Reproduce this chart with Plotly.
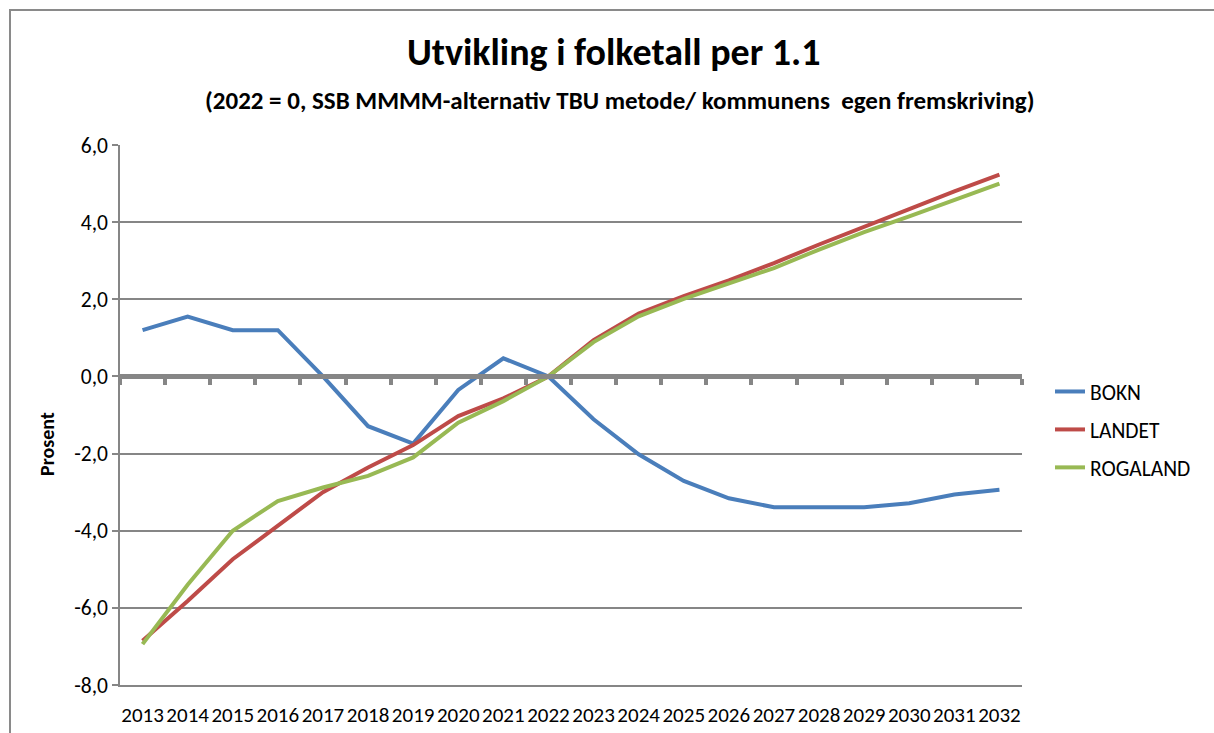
import plotly.graph_objects as go

years = [str(y) for y in range(2013, 2033)]
bokn = [1.2, 1.55, 1.2, 1.2, 0.0, -1.29, -1.74, -0.35, 0.47, 0.0,
        -1.11, -2.02, -2.71, -3.16, -3.39, -3.39, -3.39, -3.29, -3.06, -2.94]
landet = [-6.85, -5.82, -4.74, -3.88, -3.0, -2.36, -1.78, -1.03, -0.57, 0.0,
          0.94, 1.63, 2.08, 2.49, 2.94, 3.42, 3.89, 4.34, 4.80, 5.23]
rogaland = [-6.94, -5.4, -4.0, -3.23, -2.88, -2.58, -2.1, -1.2, -0.64, 0.0,
            0.89, 1.56, 2.01, 2.40, 2.81, 3.29, 3.74, 4.15, 4.57, 5.0]
yticks = [-8, -6, -4, -2, 0, 2, 4, 6]
ytick_labels = ["-8,0", "-6,0", "-4,0", "-2,0", "0,0", "2,0", "4,0", "6,0"]

FONT = "Carlito, Calibri, Lato, sans-serif"
GRAY = "#868686"
W, H = 1214, 733
L, R, T, B = 120, 1022, 145, 685


def px(x):
    return (x - L) / (R - L)


def py(y):
    return (B - y) / (B - T)


fig = go.Figure()
series = [("BOKN", bokn, "#4A7EBB"), ("LANDET", landet, "#BE4B48"), ("ROGALAND", rogaland, "#98B954")]
for name, vals, col in series:
    fig.add_trace(go.Scatter(x=years, y=vals, name=name, mode="lines",
                             line=dict(color=col, width=4), legendgroup=name))

# invisible trace for the zero-crossing category axis
fig.add_trace(go.Scatter(x=years, y=[None] * len(years), xaxis="x2", showlegend=False,
                         hoverinfo="skip", mode="lines"))

fig.update_layout(
    width=W, height=H,
    margin=dict(l=L, r=W - R, t=T, b=H - B, autoexpand=False),
    paper_bgcolor="white", plot_bgcolor="white",
    font=dict(family=FONT, color="#000000", size=21),
    showlegend=True,
    legend=dict(x=px(1050), y=py(371), xanchor="left", yanchor="top",
                font=dict(size=21.5, family=FONT), tracegroupgap=7,
                bgcolor="rgba(0,0,0,0)"),
    xaxis=dict(type="category", categoryarray=years, range=[-0.5, 19.5],
               showgrid=False, showline=True, linecolor=GRAY, linewidth=1.5,
               ticks="", ticklabelstandoff=10, automargin=False, tickangle=0,
               tickfont=dict(size=21, family=FONT)),
    xaxis2=dict(type="category", categoryarray=years, range=[-0.5, 19.5],
                overlaying="x", anchor="free", position=8 / 14,
                showgrid=False, showline=True, linecolor=GRAY, linewidth=4.5,
                ticks="outside", tickson="boundaries", ticklen=6, tickwidth=4,
                tickcolor=GRAY, showticklabels=False, side="bottom"),
    yaxis=dict(range=[-8, 6], tickvals=yticks, ticktext=ytick_labels,
               showgrid=True, gridcolor=GRAY, gridwidth=1.5,
               showline=True, linecolor=GRAY, linewidth=1.5,
               ticks="outside", ticklen=6, tickcolor=GRAY, tickwidth=1.5,
               zeroline=False, automargin=False, tickfont=dict(size=21.5, family=FONT)),
)

fig.add_annotation(text="<b>Utvikling i folketall per 1.1</b>", xref="paper", yref="paper",
                   x=px(614), y=py(52), xanchor="center", yanchor="middle",
                   showarrow=False, font=dict(size=38, family=FONT))
fig.add_annotation(text="<b>(2022 = 0, SSB MMMM-alternativ TBU metode/ kommunens  egen fremskriving)</b>",
                   xref="paper", yref="paper", x=px(619), y=py(100),
                   xanchor="center", yanchor="middle", showarrow=False,
                   font=dict(size=25, family=FONT))
fig.add_annotation(text="<b>Prosent</b>", xref="paper", yref="paper", x=px(47), y=py(444),
                   xanchor="center", yanchor="middle", textangle=-90, showarrow=False,
                   font=dict(size=20, family=FONT))

fig.add_shape(type="rect", xref="paper", yref="paper",
              x0=px(10), y0=py(745), x1=px(1225), y1=py(10),
              line=dict(color="#8a8a8a", width=2), fillcolor="rgba(0,0,0,0)", layer="below")

fig.write_html("out.html", post_script="document.body.style.margin='0';",
               config={"displayModeBar": False})
